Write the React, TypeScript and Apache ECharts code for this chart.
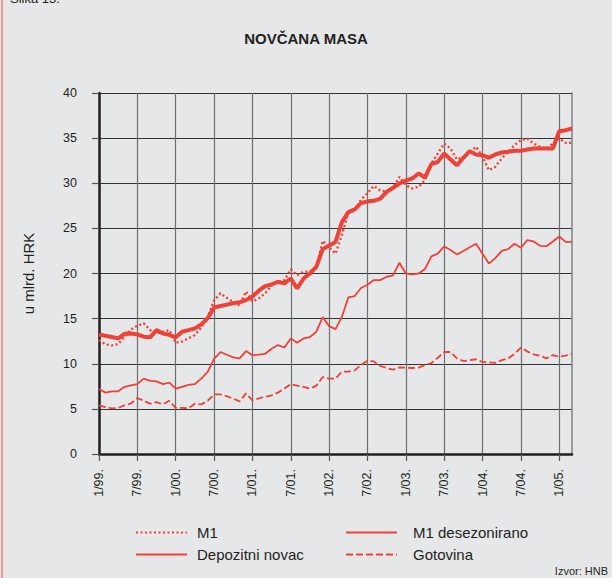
import React, { useEffect, useRef } from 'react';
import * as echarts from 'echarts';

const FONT = '"Liberation Sans", Arial, Helvetica, sans-serif';
const RED = '#ef4136';

// monthly categories 1/99 .. 3/05
const startYear = 1999;
const monthCount = 75;
const categories: string[] = [];
for (let i = 0; i < monthCount; i++) {
  const m = (i % 12) + 1;
  const yy = String((startYear + Math.floor(i / 12)) % 100).padStart(2, '0');
  categories.push(`${m}/${yy}.`);
}

const m1 = [
  12.62, 12.15, 12.03, 12.18, 13.0, 13.8, 14.2, 14.47, 13.73, 13.36, 13.55, 13.73,
  12.33, 12.47, 12.81, 13.18, 14.03, 15.2, 17.0, 17.8, 17.3, 16.85, 16.45, 18.0,
  16.9, 17.24, 17.8, 18.7, 19.08, 19.27, 20.45, 19.8, 20.2, 20.2, 20.74, 23.62,
  22.9, 22.2, 24.25, 26.7, 27.0, 28.2, 28.9, 29.7, 29.2, 29.1, 29.5, 30.7,
  29.8, 29.42, 29.6, 30.34, 32.19, 33.3, 34.4, 33.85, 32.63, 32.93, 33.48, 34.04,
  32.93, 31.45, 31.82, 32.74, 33.48, 34.22, 34.77, 34.96, 34.4, 34.04, 33.85, 34.4,
  34.96, 34.48, 34.48,
];

const m1Sa = [
  13.25, 13.1, 12.96, 12.81, 13.32, 13.36, 13.25, 13.0, 12.93, 13.73, 13.36, 13.2,
  12.93, 13.55, 13.73, 13.92, 14.36, 15.03, 16.24, 16.4, 16.55, 16.7, 16.83, 17.05,
  17.45, 18.09, 18.6, 18.79, 19.08, 18.9, 19.45, 18.35, 19.45, 20.0, 20.74, 22.7,
  23.1, 23.5, 25.7, 26.8, 27.1, 27.8, 28.0, 28.05, 28.3, 29.05, 29.5, 29.97,
  30.3, 30.53, 31.08, 30.64, 32.11, 32.37, 33.3, 32.63, 32.0, 32.82, 33.55, 33.19,
  33.11, 32.82, 33.19, 33.41, 33.48, 33.59, 33.59, 33.74, 33.85, 33.85, 33.85, 33.85,
  35.77, 35.88, 36.07,
];

const deposits = [
  7.2, 6.8, 6.95, 6.95, 7.45, 7.6, 7.75, 8.35, 8.1, 8.05, 7.75, 7.9,
  7.25, 7.45, 7.65, 7.75, 8.35, 9.1, 10.55, 11.3, 11.0, 10.7, 10.6, 11.4,
  10.95, 11.0, 11.1, 11.67, 12.07, 11.8, 12.8, 12.33, 12.8, 12.96, 13.55, 15.17,
  14.17, 13.84, 15.2, 17.35, 17.5, 18.4, 18.75, 19.27, 19.27, 19.64, 19.8, 21.2,
  20.0, 19.9, 20.0, 20.5, 21.9, 22.2, 23.0, 22.6, 22.1, 22.5, 22.9, 23.3,
  22.2, 21.1, 21.7, 22.5, 22.7, 23.3, 22.85, 23.7, 23.55, 23.07, 23.03, 23.55,
  24.1, 23.5, 23.5,
];

const currency = [
  5.39, 5.2, 5.06, 5.1, 5.4, 5.6, 6.2, 5.9, 5.57, 5.75, 5.5, 5.9,
  5.1, 5.1, 5.06, 5.57, 5.5, 5.9, 6.6, 6.6, 6.4, 6.13, 5.83, 6.72,
  5.94, 6.16, 6.35, 6.5, 6.8, 7.25, 7.75, 7.57, 7.45, 7.25, 7.57, 8.53,
  8.35, 8.35, 9.12, 9.12, 9.27, 9.86, 10.34, 10.26, 9.75, 9.53, 9.34, 9.6,
  9.57, 9.53, 9.57, 9.86, 10.08, 10.67, 11.3, 11.3, 10.6, 10.3, 10.4, 10.5,
  10.19, 10.15, 10.1, 10.4, 10.6, 11.07, 11.8, 11.37, 11.03, 10.9, 10.6, 10.96,
  10.8, 10.9, 11.07,
];

export default function App() {
  const ref = useRef<HTMLDivElement>(null);
  useEffect(() => {
    if (!ref.current) return;
    const chart = echarts.init(ref.current, undefined, { renderer: 'svg' });
    const legendText = { fontSize: 15, color: '#231f20', fontFamily: FONT };
    const legendCommon = {
      orient: 'vertical',
      top: 520,
      itemWidth: 51,
      itemHeight: 14,
      itemGap: 7,
      itemStyle: { color: 'transparent', borderWidth: 0, opacity: 0 },
    };
    chart.setOption({
      animation: false,
      backgroundColor: '#e6e7e8',
      textStyle: { fontFamily: FONT },
      title: {
        text: 'NOVČANA MASA',
        left: 'center',
        top: 26,
        textStyle: { fontSize: 15, fontWeight: 'bold', color: '#231f20', fontFamily: FONT },
      },
      grid: { left: 99, right: 40, top: 93, bottom: 124 },
      legend: [
        {
          ...legendCommon,
          data: ['M1', 'Depozitni novac'],
          left: 130,
          textStyle: { ...legendText, padding: [0, 0, 0, 5] },
        },
        {
          ...legendCommon,
          data: ['M1 desezonirano', 'Gotovina'],
          left: 340,
          textStyle: { ...legendText, padding: [0, 0, 0, 11] },
        },
      ],
      xAxis: {
        type: 'category',
        data: categories,
        boundaryGap: false,
        axisLine: { lineStyle: { color: '#231f20', width: 2.5 } },
        axisTick: { interval: 5, length: 7, lineStyle: { color: '#555', width: 1.2 } },
        axisLabel: { interval: 5, rotate: 90, margin: 15, fontSize: 12.5, color: '#231f20' },
        splitLine: { show: true, interval: 5, lineStyle: { color: '#6d6e70', width: 1.2 } },
      },
      yAxis: [
        {
          type: 'value',
          min: 0,
          max: 40,
          interval: 5,
          name: 'u mlrd. HRK',
          nameLocation: 'middle',
          nameGap: 63,
          nameTextStyle: { fontSize: 15, color: '#231f20' },
          axisLine: { show: true, lineStyle: { color: '#231f20', width: 2.5 } },
          axisTick: { show: true, length: 7, lineStyle: { color: '#555', width: 1.2 } },
          axisLabel: { margin: 22, fontSize: 12.5, color: '#231f20' },
          splitLine: { show: true, lineStyle: { color: '#333', width: 1.2 } },
        },
        {
          type: 'value',
          position: 'right',
          min: 0,
          max: 40,
          interval: 5,
          axisLine: { show: true, lineStyle: { color: '#808285', width: 1.5 } },
          axisTick: { show: false },
          axisLabel: { show: false },
          splitLine: { show: false },
        },
      ],
      series: [
        {
          name: 'Depozitni novac',
          type: 'line',
          data: deposits,
          symbol: 'none',
          lineStyle: { color: RED, width: 1.8 },
          itemStyle: { color: RED },
        },
        {
          name: 'Gotovina',
          type: 'line',
          data: currency,
          symbol: 'none',
          lineStyle: { color: RED, width: 1.8, type: [7, 3] },
          itemStyle: { color: RED },
        },
        {
          name: 'M1 desezonirano',
          type: 'line',
          data: m1Sa,
          symbol: 'none',
          lineStyle: { color: RED, width: 4 },
          itemStyle: { color: RED },
        },
        {
          name: 'M1',
          type: 'line',
          data: m1,
          symbol: 'none',
          lineStyle: { color: RED, width: 2.4, type: [2, 2.5] },
          itemStyle: { color: RED },
        },
      ],
      graphic: [
        {
          type: 'line',
          shape: { x1: 2, y1: 0, x2: 2, y2: 578 },
          style: { stroke: '#f26a5a', lineWidth: 1.2 },
        },
        {
          type: 'text',
          x: 10,
          y: -2,
          style: { text: 'Slika 13.', fill: '#231f20', font: `13px ${FONT}`, verticalAlign: 'middle' },
        },
        {
          type: 'text',
          right: 4,
          top: 565,
          style: { text: 'Izvor: HNB', fill: '#231f20', font: `11px ${FONT}` },
        },
      ],
    });
    return () => chart.dispose();
  }, []);
  return (
    <div
      ref={ref}
      style={{ position: 'absolute', left: 0, top: 0, width: 612, height: 578 }}
    />
  );
}
